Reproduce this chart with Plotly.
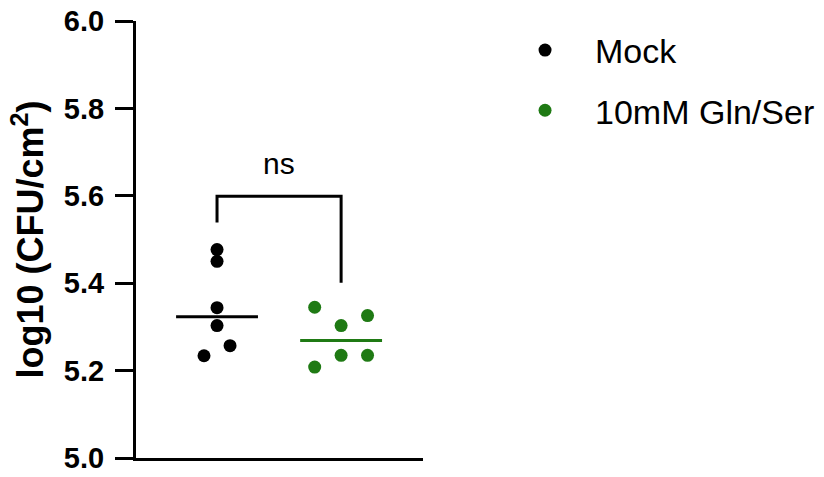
import plotly.graph_objects as go
import numpy as np

# Group labels and colours
groups = ["Mock", "10mM Gln/Ser"]
colors = ["#000000", "#1f7a14"]

# log10 CFU/cm2 per replicate
mock_values = [5.477, 5.450, 5.344, 5.303, 5.257, 5.234]
gln_ser_values = [5.345, 5.326, 5.303, 5.235, 5.235, 5.208]

# horizontal scatter offsets (swarm layout) within each group
mock_offsets = [0.0, 0.0, 0.0, 0.0, 0.105, -0.105]
gln_ser_offsets = [-0.213, 0.213, 0.0, 0.0, 0.213, -0.213]

# y tick values
y_ticks = [5.0, 5.2, 5.4, 5.6, 5.8, 6.0]

# significance bracket: top and leg ends
bracket_top = 5.599
bracket_left_end = 5.539
bracket_right_end = 5.401
sig_label = "ns"

FONT = "Liberation Sans, Arial, sans-serif"

fig = go.Figure()

series = [mock_values, gln_ser_values]
offsets = [mock_offsets, gln_ser_offsets]
for i, (name, vals, offs, col) in enumerate(zip(groups, series, offsets, colors)):
    fig.add_trace(go.Scatter(
        x=[i + o for o in offs], y=vals, mode="markers", name=name,
        legendgroup=name,
        marker=dict(color=col, size=13, line=dict(width=0)),
        cliponaxis=False,
    ))
    med = float(np.median(vals))
    fig.add_trace(go.Scatter(
        x=[i - 0.33, i + 0.33], y=[med, med], mode="lines",
        line=dict(color=col, width=3), showlegend=False, hoverinfo="skip",
    ))

# bracket between the two groups
fig.add_trace(go.Scatter(
    x=[0, 0, 1, 1],
    y=[bracket_left_end, bracket_top, bracket_top, bracket_right_end],
    mode="lines", line=dict(color="black", width=3),
    showlegend=False, hoverinfo="skip", cliponaxis=False,
))
fig.add_annotation(
    x=0.5, y=bracket_top, yshift=14, text=sig_label, showarrow=False,
    yanchor="bottom", font=dict(family=FONT, size=30, color="black"),
)

fig.update_layout(
    width=824, height=477,
    margin=dict(l=136, r=401, t=21, b=19, autoexpand=False),
    paper_bgcolor="white", plot_bgcolor="white",
    showlegend=True,
    legend=dict(
        x=1.251, y=0.999, xanchor="left", yanchor="top",
        font=dict(family=FONT, size=34, color="black"),
        tracegroupgap=13, itemwidth=90,
        bgcolor="rgba(0,0,0,0)",
    ),
    xaxis=dict(
        range=[-0.653, 1.66], showgrid=False, zeroline=False,
        showticklabels=False, ticks="",
        showline=True, linecolor="black", linewidth=3,
    ),
    yaxis=dict(
        range=[5.0, 6.0], tickvals=y_ticks, automargin=False,
        ticktext=[f"{v:.1f}" for v in y_ticks],
        showgrid=False, zeroline=False,
        showline=True, linecolor="black", linewidth=3,
        ticks="outside", ticklen=18, tickwidth=3, tickcolor="black",
        ticklabelstandoff=5,
        tickfont=dict(family=FONT, size=29, color="black", weight="bold"),
        title=dict(text="log10 (CFU/cm<sup>2</sup>)", standoff=10,
                   font=dict(family=FONT, size=36, color="black", weight="bold")),
    ),
)

fig.write_html("out.html")
